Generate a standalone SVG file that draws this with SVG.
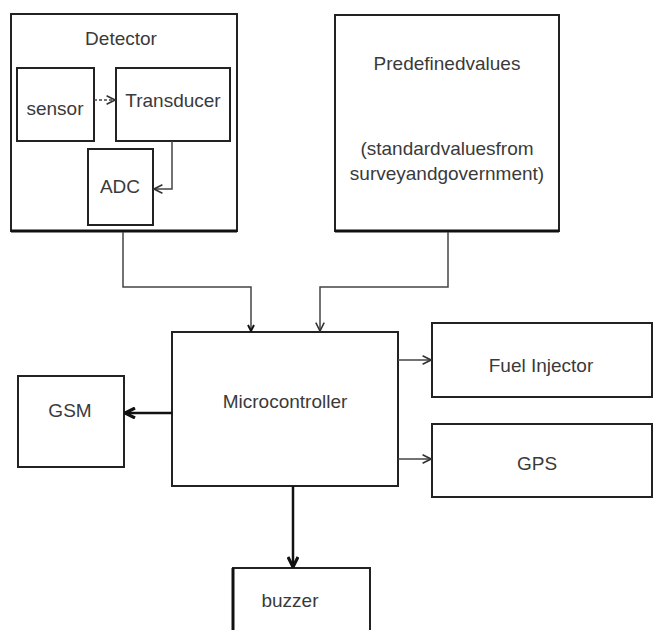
<svg xmlns="http://www.w3.org/2000/svg" width="656" height="630" viewBox="0 0 656 630">
<defs>
<style>
.b{fill:#fff;stroke:#222;stroke-width:2}
.t{font-family:"Liberation Sans",Arial,sans-serif;font-size:19px;fill:#3a3a3a;text-anchor:middle}
.c{fill:none;stroke:#444;stroke-width:1.5}
.k{fill:none;stroke:#111;stroke-width:2.5}
</style>
<marker id="a" viewBox="0 0 10 10" refX="9" refY="5" markerWidth="7" markerHeight="7" orient="auto"><path d="M1,1 L9,5 L1,9" fill="none" stroke="#333" stroke-width="1.5"/></marker>
<marker id="ak" viewBox="0 0 10 10" refX="9" refY="5" markerWidth="5" markerHeight="5" orient="auto"><path d="M1,1 L9,5 L1,9" fill="none" stroke="#111" stroke-width="2.5"/></marker>
</defs>
<rect width="656" height="630" fill="#fff"/>
<g id="detector">
<rect class="b" x="11" y="14" width="226" height="217"/>
<line x1="11" y1="231" x2="237" y2="231" stroke="#111" stroke-width="3"/>
<text class="t" x="121" y="45">Detector</text>
</g>
<g id="sensor">
<rect class="b" x="17" y="68" width="77" height="73"/>
<text class="t" x="55" y="115">sensor</text>
</g>
<g id="transducer">
<rect class="b" x="116" y="68" width="114" height="73" stroke-width="2.5"/>
<text class="t" x="173" y="107">Transducer</text>
</g>
<g id="adc">
<rect class="b" x="88" y="149" width="65" height="76" stroke-width="2.5"/>
<text class="t" x="120" y="193">ADC</text>
</g>
<g id="predefined">
<rect class="b" x="335" y="15" width="224" height="216"/>
<line x1="335" y1="231" x2="559" y2="231" stroke="#111" stroke-width="3"/>
<text class="t" x="447" y="70">Predefinedvalues</text>
<text class="t" x="447" y="155">(standardvaluesfrom</text>
<text class="t" x="447" y="180">surveyandgovernment)</text>
</g>
<g id="microcontroller">
<rect class="b" x="172" y="332" width="226" height="154" stroke-width="1.5"/>
<text class="t" x="285" y="408">Microcontroller</text>
</g>
<g id="gsm">
<rect class="b" x="18" y="376" width="106" height="91" stroke-width="3"/>
<text class="t" x="70" y="417">GSM</text>
</g>
<g id="fuelinjector">
<rect class="b" x="432" y="323" width="220" height="74" stroke-width="2.5"/>
<text class="t" x="541" y="372">Fuel Injector</text>
</g>
<g id="gps">
<rect class="b" x="432" y="424" width="220" height="73" stroke-width="2"/>
<text class="t" x="537" y="470">GPS</text>
</g>
<g id="buzzer">
<rect class="b" x="233" y="568" width="137" height="70" stroke-width="2"/>
<line x1="233" y1="568" x2="233" y2="630" stroke="#111" stroke-width="3"/>
<text class="t" x="290" y="607">buzzer</text>
</g>
<g id="connectors">
<line class="c" x1="94" y1="100" x2="115" y2="100" stroke-dasharray="3,2" marker-end="url(#a)"/>
<polyline class="c" points="172,141 172,189 154,189" marker-end="url(#a)"/>
<polyline class="c" points="123,232 123,287 251,287 251,331" stroke-width="2" marker-end="url(#ak)"/>
<polyline class="c" points="448,232 448,287 320,287 320,331" marker-end="url(#a)"/>
<line class="k" x1="172" y1="413" x2="125" y2="413" marker-end="url(#ak)"/>
<line class="c" x1="398" y1="360" x2="431" y2="360" marker-end="url(#a)"/>
<line class="c" x1="398" y1="459" x2="431" y2="459" marker-end="url(#a)"/>
<line class="k" x1="293" y1="486" x2="293" y2="567" stroke-width="2" marker-end="url(#ak)"/>
</g>
</svg>
